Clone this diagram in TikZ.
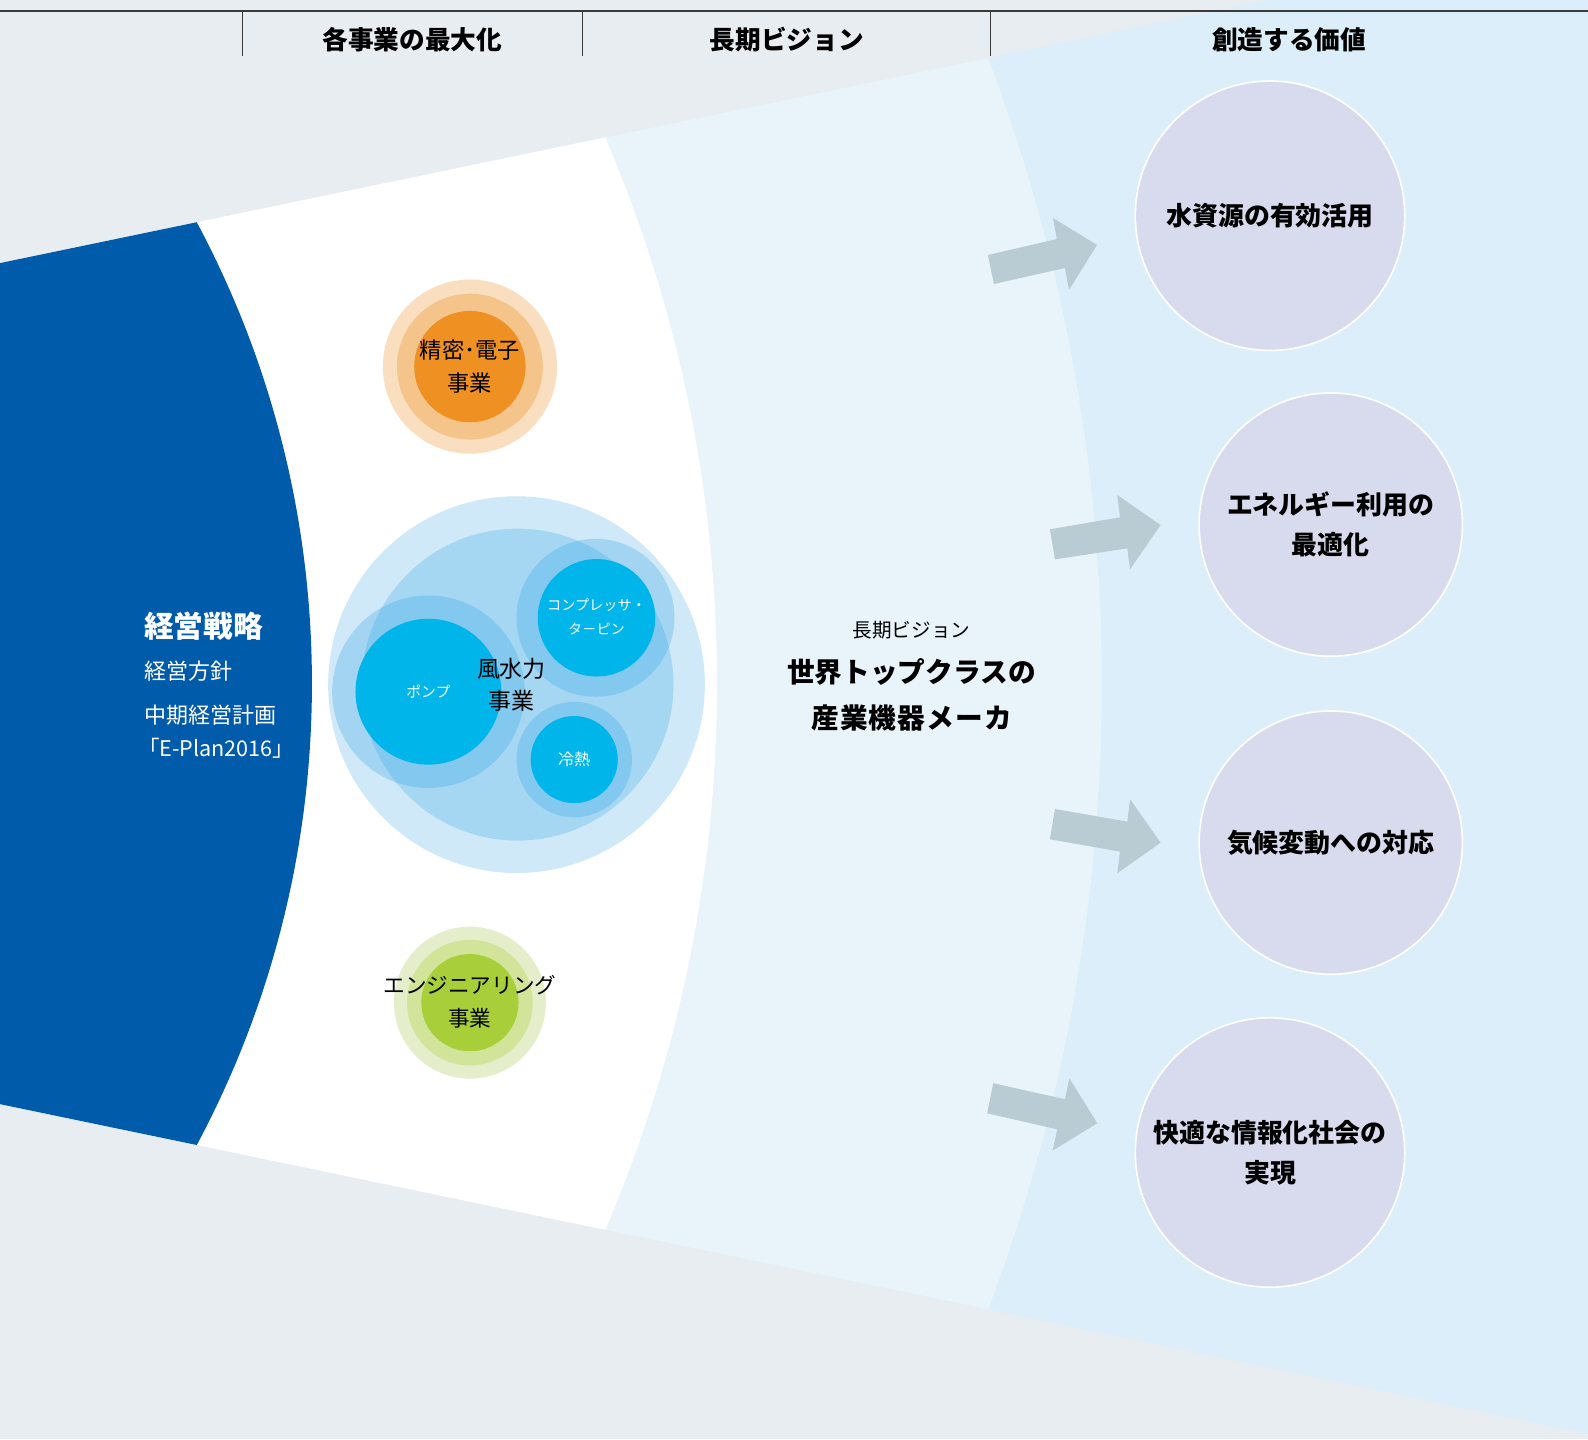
\documentclass[tikz,border=0pt]{standalone}
\usepackage{fontspec}
\setmainfont{Noto Sans CJK JP}
\definecolor{bggray}{HTML}{E8EDF1}
\definecolor{farblue}{HTML}{DCEEF9}
\definecolor{bandblue}{HTML}{E8F3FA}
\definecolor{ebblue}{HTML}{005BAA}
\definecolor{lav}{HTML}{D8DBEE}
\definecolor{arrowgray}{HTML}{B9CBD3}
\definecolor{orA}{HTML}{F9DFC0}
\definecolor{orB}{HTML}{F5C48A}
\definecolor{orC}{HTML}{EE9122}
\definecolor{grA}{HTML}{E5EECB}
\definecolor{grB}{HTML}{D2E39A}
\definecolor{grC}{HTML}{A8CE3A}
\definecolor{blA}{HTML}{D0E9F9}
\definecolor{blB}{HTML}{A5D7F3}
\definecolor{ringblue}{RGB}{31,156,224}
\definecolor{cyanc}{HTML}{00B5EA}
\definecolor{linegray}{HTML}{3A3A3A}
\tikzset{
  hdr/.style={font=\fontsize{19}{22}\selectfont\bfseries, text=black},
  valnode/.style={circle, fill=lav, draw=white, line width=1.2pt, align=center,
    inner sep=0pt, font=\fontsize{19.2}{30}\selectfont\bfseries},
  blockarrow/.style={fill=arrowgray},
  ring/.style={fill=ringblue, fill opacity=0.25},
  bizlabel/.style={align=center, text=black, font=\fontsize{16.5}{24}\selectfont},
  sublabel/.style={align=center, text=white, font=\fontsize{11}{18}\selectfont},
  lefttxt/.style={anchor=west, text=white, inner sep=0pt, font=\fontsize{16}{20}\selectfont},
  midtxt/.style={align=center, text=black},
}
\begin{document}
\begin{tikzpicture}[x=0.75pt,y=-0.75pt]
\useasboundingbox (0,0) rectangle (1568,1421);
\fill[bggray] (0,0) rectangle (1568,1421);
% fan
\begin{scope}
  \clip (-2000,675) -- (2200,-197) -- (2200,1547) -- cycle;
  \fill[farblue] (-100,-300) rectangle (1700,1700);
  \fill[bandblue] (-660,675) circle (1748);
  \fill[white] (-660,675) circle (1368);
  \fill[ebblue] (-660,675) circle (968);
\end{scope}
% header
\draw[linegray, line width=1.1pt] (0,11) -- (1568,11);
\draw[linegray, line width=0.6pt] (239,11) -- (239,55);
\draw[linegray, line width=0.6pt] (575,11) -- (575,55);
\draw[linegray, line width=0.6pt] (978,11) -- (978,55);
\node[hdr] (h1) at (407,39) {各事業の最大化};
\node[hdr] (h2) at (777,39) {長期ビジョン};
\node[hdr] (h3) at (1273,39) {創造する価値};
% left strategy text
\node[lefttxt, font=\fontsize{22}{24}\selectfont\bfseries] (s1) at (142,618) {経営戦略};
\node[lefttxt, font=\fontsize{16.3}{20}\selectfont] (s2) at (142,663) {経営方針};
\node[lefttxt, font=\fontsize{16.3}{20}\selectfont] (s3) at (142,706) {中期経営計画};
\node[lefttxt] (s4) at (136,739) {「E-Plan2016」};
% orange business
\fill[orA] (464,362) circle (86);
\fill[orB] (464,362) circle (72);
\fill[orC] (464,362) circle (55);
\node[bizlabel] (b1) at (464,362) {精密･電子\\事業};
% green business
\fill[grA] (464,990) circle (75);
\fill[grB] (464,990) circle (62);
\fill[grC] (464,990) circle (48);
\node[bizlabel, font=\fontsize{16}{24}\selectfont] (b3) at (464,989) {エンジニアリング\\事業};
% blue cluster
\fill[blA] (510,676) circle (186);
\fill[blB] (511,676) circle (154);
\fill[ring] (423,683) circle (95);
\fill[ring] (588,610) circle (78);
\fill[ring] (567,750) circle (57);
\fill[cyanc] (423,683) circle (72);
\fill[cyanc] (589,610) circle (58);
\fill[cyanc] (567,750) circle (43);
\node[sublabel] (p1) at (423,683) {ポンプ};
\node[sublabel, font=\fontsize{10.5}{18}\selectfont] (p2) at (589,609) {コンプレッサ・\\タ－ピン};
\node[sublabel, font=\fontsize{12}{18}\selectfont] (p3) at (567,750) {冷熱};
\node[bizlabel, font=\fontsize{17}{24}\selectfont] (b2) at (505,676) {風水力\\事業};
% vision
\node[midtxt, font=\fontsize{14.5}{18}\selectfont] (v0) at (900,622) {長期ビジョン};
\node[midtxt, font=\fontsize{20.5}{34.5}\selectfont\bfseries] (v1) at (900,686) {世界トップクラスの\\\addfontfeature{LetterSpace=4}産業機器メーカ};
% arrows
\fill[blockarrow] (975.5,251.8) -- (1043.6,236) -- (1039.7,215.2) -- (1083.2,241.9) -- (1055.5,286.3) -- (1051.5,264.6) -- (981.4,280.4) -- cycle;
\fill[blockarrow] (1036.7,522.6) -- (1105.9,510.8) -- (1103.2,488.8) -- (1146,518.4) -- (1115.8,562.1) -- (1113.1,541.4) -- (1041.7,552.3) -- cycle;
\fill[blockarrow] (1041.7,798.8) -- (1113.1,811.3) -- (1115.8,789.2) -- (1146,832) -- (1103.2,862.3) -- (1105.9,840.9) -- (1036.7,828.7) -- cycle;
\fill[blockarrow] (980.7,1069.6) -- (1051.5,1085.4) -- (1055.8,1064.7) -- (1083.5,1109.1) -- (1039.4,1136.1) -- (1043.9,1115.1) -- (974.8,1099.2) -- cycle;
% value circles
\node[valnode, minimum size=199.5pt] (c1) at (1254,213) {水資源の有効活用};
\node[valnode, minimum size=195pt] (c2) at (1314,518) {エネルギー利用の\\最適化};
\node[valnode, minimum size=195pt] (c3) at (1314,832) {気候変動への対応};
\node[valnode, minimum size=199.5pt] (c4) at (1254,1138) {快適な情報化社会の\\実現};
\end{tikzpicture}
\end{document}
